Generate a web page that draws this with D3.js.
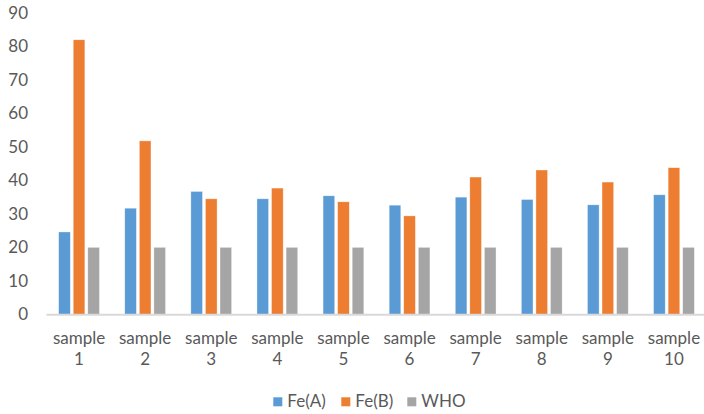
<!DOCTYPE html>
<html><head><meta charset="utf-8">
<script src="https://cdn.jsdelivr.net/npm/d3@7"></script>
<style>body{margin:0;background:#fff}svg{display:block}text{font-family:Lato,"Open Sans",sans-serif;fill:#595959}</style>
</head><body><svg id="c" width="704" height="414"></svg>
<script>
const categories = ["sample 1","sample 2","sample 3","sample 4","sample 5","sample 6","sample 7","sample 8","sample 9","sample 10"];
const seriesNames = ["Fe(A)","Fe(B)","WHO"];
const feA = [24.6,31.7,36.7,34.5,35.4,32.6,35.0,34.3,32.7,35.7];
const feB = [82.0,51.8,34.5,37.7,33.6,29.4,41.0,43.1,39.5,43.8];
const who = [20,20,20,20,20,20,20,20,20,20];
const yTicks = [0,10,20,30,40,50,60,70,80,90];
const colors = ["#5B9BD5","#ED7D31","#A5A5A5"];
const series = [feA, feB, who];

const svg = d3.select("#c");
const mLeft = 46, mRight = 707, mTop = 13, mBottom = 314.3;
const fs = 17;
const x0 = d3.scaleBand().domain(categories).range([mLeft,mRight]).paddingInner(0.383).paddingOuter(0.1915);
const x1 = d3.scaleBand().domain(seriesNames).range([0,x0.bandwidth()]).paddingInner(0.2).paddingOuter(0);
const y = d3.scaleLinear().domain([0,90]).range([mBottom,mTop]);

// bars
const g = svg.append("g");
categories.forEach((c,i)=>{
  seriesNames.forEach((s,j)=>{
    const v = series[j][i];
    g.append("rect")
      .attr("x", x0(c)+x1(s))
      .attr("y", y(v))
      .attr("width", x1.bandwidth())
      .attr("height", y(0)-y(v))
      .attr("fill", colors[j])
      .attr("stroke","#fff").attr("stroke-width",0.6).attr("stroke-opacity",0.6);
  });
});

// y axis labels
const ya = svg.append("g").attr("transform",`translate(${mLeft},0)`)
  .call(d3.axisLeft(y).tickValues(yTicks).tickSize(0).tickPadding(18));
ya.select(".domain").remove();
ya.selectAll("text").attr("font-size",fs).style("font-family","Lato, sans-serif").attr("fill","#595959");

// x axis
const xa = svg.append("g").attr("transform",`translate(0,${mBottom})`)
  .call(d3.axisBottom(x0).tickSize(0).tickFormat(""));
xa.select(".domain").attr("stroke","#D9D9D9").attr("stroke-width",2);
xa.selectAll(".tick").each(function(d){
  const parts = d.split(" ");
  const t = d3.select(this).append("text").attr("text-anchor","middle")
    .attr("font-size",fs).attr("fill","#595959");
  t.append("tspan").attr("x",0).attr("y",30).text(parts[0]);
  t.append("tspan").attr("x",0).attr("y",51).text(parts[1]);
});

// legend
const legendX = [273.3, 341.3, 407.3];
const lg = svg.append("g");
seriesNames.forEach((s,j)=>{
  lg.append("rect").attr("x",legendX[j]).attr("y",397.3).attr("width",9).attr("height",9).attr("fill",colors[j]);
  lg.append("text").attr("x",legendX[j]+14).attr("y",407).attr("font-size",fs).attr("fill","#595959").text(s);
});
</script></body></html>
